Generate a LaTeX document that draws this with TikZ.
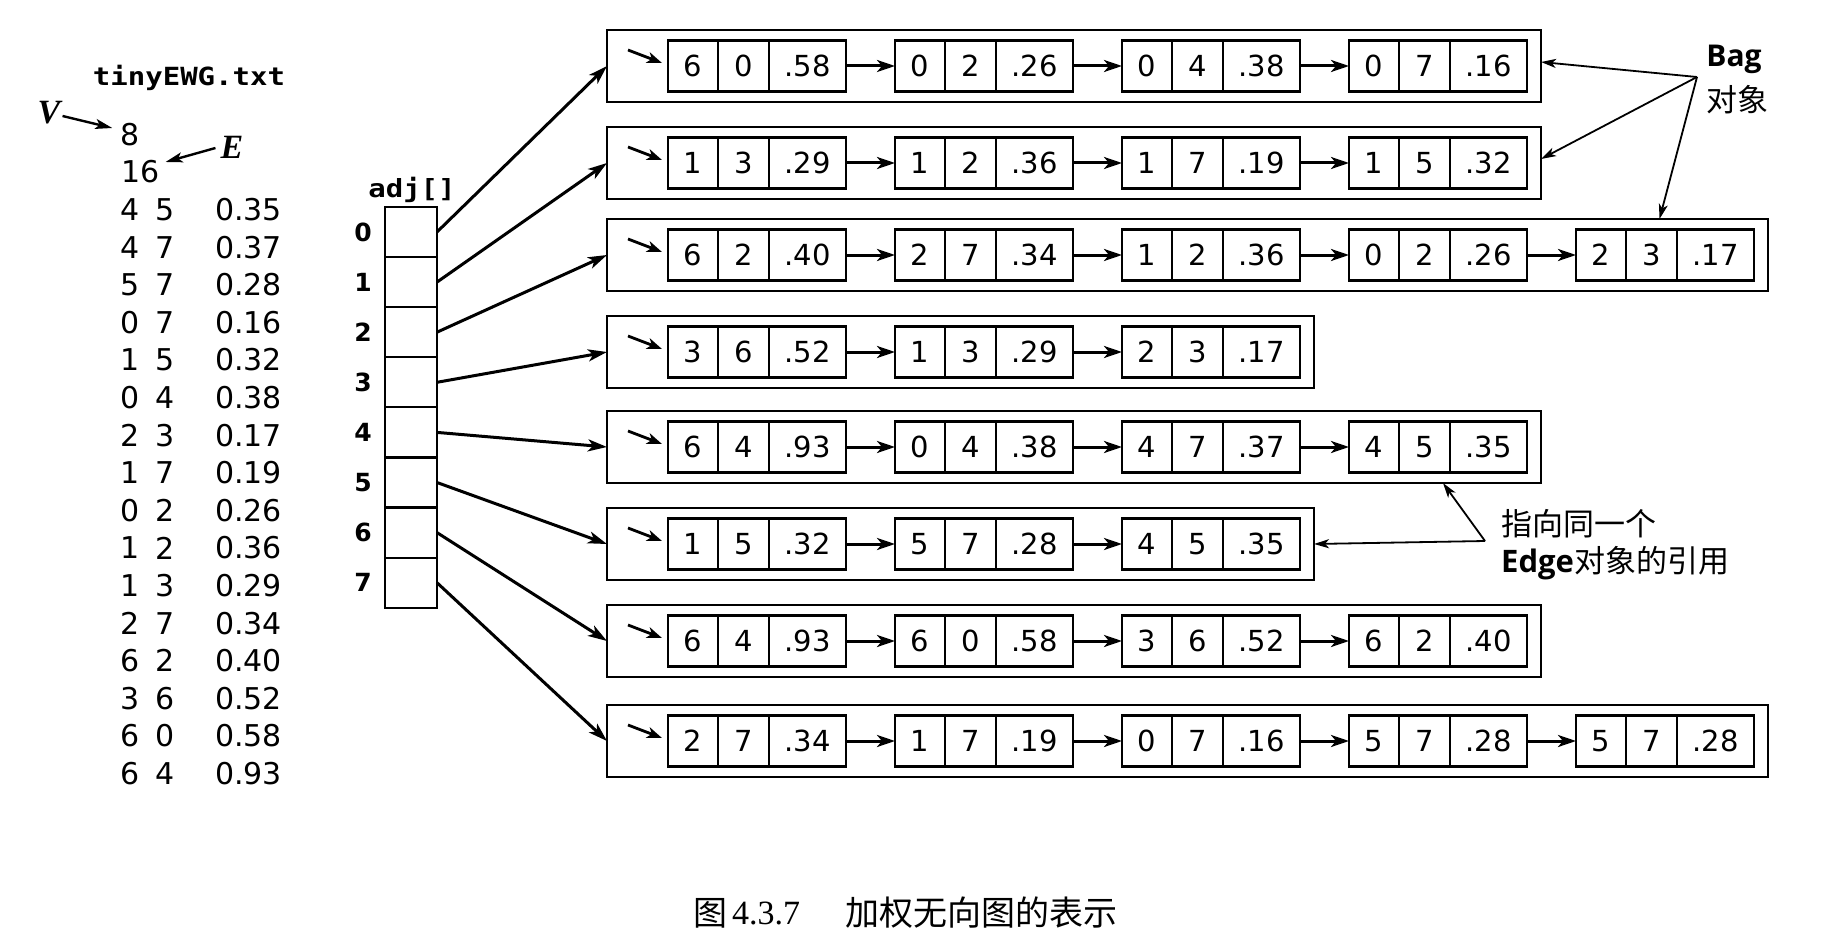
\documentclass[tikz,border=0pt]{standalone}
\usepackage{fontspec}
\setmainfont{DejaVu Sans}
\newfontfamily\cjk{Noto Sans CJK SC}
\newfontfamily\tmono[FakeStretch=1.16]{DejaVu Sans Mono}
\newfontfamily\tserif{Liberation Serif}
\newfontfamily\osans{Open Sans}
\usetikzlibrary{arrows.meta,calc}
\newcommand\enode[6]{%
  \node[ca] (#1a) at (#2+25,#3) {#4};
  \node[cb] (#1b) at (#2+75.5,#3) {#5};
  \node[cc] (#1c) at (#2+139.5,#3) {#6};}
\begin{document}
\begin{tikzpicture}[x=1pt,y=-1pt,
  box/.style={draw, line width=2.3pt, inner sep=0pt, outer sep=0pt, minimum height=51pt, font=\fontsize{29}{29}\selectfont},
  ca/.style={box, minimum width=50pt},
  cb/.style={box, minimum width=51pt},
  cc/.style={box, minimum width=77pt},
  bagbox/.style={draw, line width=2.3pt, inner sep=0pt, outer sep=0pt, minimum height=72pt, anchor=west},
  acell/.style={draw, line width=2.2pt, minimum width=52pt, minimum height=50.1pt, inner sep=0pt, outer sep=0pt},
  idx/.style={inner sep=0pt, font=\fontsize{25}{25}\selectfont\bfseries},
  el/.style={inner sep=0pt, font=\fontsize{30}{30}\selectfont},
  mono/.style={inner sep=0pt, font=\fontsize{25}{25}\selectfont\tmono\bfseries},
  vl/.style={inner sep=0pt, font=\fontsize{34}{34}\selectfont\tserif\bfseries\itshape},
  cjkl/.style={inner sep=0pt, font=\fontsize{31}{31}\selectfont\cjk},
  latl/.style={inner sep=0pt, font=\fontsize{30}{30}\selectfont\osans\bfseries},
  capt/.style={inner sep=0pt},
  ptr/.style={line width=3pt, -{Stealth[length=19pt,width=12pt,inset=5pt]}},
  nxt/.style={line width=3pt, -{Stealth[length=18pt,width=12pt,inset=5pt]}},
  entry/.style={line width=2.8pt, -{Stealth[length=15pt,width=11pt,inset=4pt]}},
  labarrow/.style={line width=2.4pt, -{Stealth[length=17pt,width=10pt,inset=4pt]}},
  thinarrow/.style={line width=1.8pt, -{Stealth[length=15pt,width=9pt,inset=4pt]}}
]
\useasboundingbox (0,0) rectangle (1847,944);
\fill[white] (0,0) rectangle (1847,944);

% ---------- edge list file ----------
\node[mono] (title) at (189,78) {tinyEWG.txt};
\node[el] (v8) at (130,135) {8};
\node[el, anchor=west] (e16) at (121,172) {16};
\foreach \a/\b/\w [count=\k] in {4/5/0.35,4/7/0.37,5/7/0.28,0/7/0.16,1/5/0.32,0/4/0.38,2/3/0.17,1/7/0.19,0/2/0.26,1/2/0.36,1/3/0.29,2/7/0.34,6/2/0.40,3/6/0.52,6/0/0.58,6/4/0.93}{
  \node[el] (ra\k) at (130,172+37.6*\k) {\a};
  \node[el] (rb\k) at (165,172+37.6*\k) {\b};
  \node[el, anchor=east] (rc\k) at (282,172+37.6*\k) {\w};
}
\node[vl] (V) at (49,113) {V};
\node[vl] (E) at (232,147) {E};
\draw[labarrow] ([shift={(2,3)}]V.east) -- ([shift={(-8,-7)}]v8.west);
\draw[labarrow] ([shift={(-5,1)}]E.west) -- ([shift={(6,-10)}]e16.east);

% ---------- adj array ----------
\node[mono] (adjl) at (412,190) {adj[]};
\foreach \i in {0,...,7}{
  \node[acell] (a\i) at (411,232+50.1*\i) {};
  \node[idx] (l\i) at (363,232+50.1*\i) {\i};
}

% ---------- bags ----------
\node[bagbox, minimum width=934pt] (b0) at (607,66) {};
\node[bagbox, minimum width=934pt] (b1) at (607,163) {};
\node[bagbox, minimum width=1161pt] (b2) at (607,255) {};
\node[bagbox, minimum width=707pt] (b3) at (607,352) {};
\node[bagbox, minimum width=934pt] (b4) at (607,447) {};
\node[bagbox, minimum width=707pt] (b5) at (607,544) {};
\node[bagbox, minimum width=934pt] (b6) at (607,641) {};
\node[bagbox, minimum width=1161pt] (b7) at (607,741) {};

% row 0
\enode{n00}{668}{66}{6}{0}{.58}
\enode{n01}{895}{66}{0}{2}{.26}
\enode{n02}{1122}{66}{0}{4}{.38}
\enode{n03}{1349}{66}{0}{7}{.16}
% row 1
\enode{n10}{668}{163}{1}{3}{.29}
\enode{n11}{895}{163}{1}{2}{.36}
\enode{n12}{1122}{163}{1}{7}{.19}
\enode{n13}{1349}{163}{1}{5}{.32}
% row 2
\enode{n20}{668}{255}{6}{2}{.40}
\enode{n21}{895}{255}{2}{7}{.34}
\enode{n22}{1122}{255}{1}{2}{.36}
\enode{n23}{1349}{255}{0}{2}{.26}
\enode{n24}{1576}{255}{2}{3}{.17}
% row 3
\enode{n30}{668}{352}{3}{6}{.52}
\enode{n31}{895}{352}{1}{3}{.29}
\enode{n32}{1122}{352}{2}{3}{.17}
% row 4
\enode{n40}{668}{447}{6}{4}{.93}
\enode{n41}{895}{447}{0}{4}{.38}
\enode{n42}{1122}{447}{4}{7}{.37}
\enode{n43}{1349}{447}{4}{5}{.35}
% row 5
\enode{n50}{668}{544}{1}{5}{.32}
\enode{n51}{895}{544}{5}{7}{.28}
\enode{n52}{1122}{544}{4}{5}{.35}
% row 6
\enode{n60}{668}{641}{6}{4}{.93}
\enode{n61}{895}{641}{6}{0}{.58}
\enode{n62}{1122}{641}{3}{6}{.52}
\enode{n63}{1349}{641}{6}{2}{.40}
% row 7
\enode{n70}{668}{741}{2}{7}{.34}
\enode{n71}{895}{741}{1}{7}{.19}
\enode{n72}{1122}{741}{0}{7}{.16}
\enode{n73}{1349}{741}{5}{7}{.28}
\enode{n74}{1576}{741}{5}{7}{.28}

% links between edge nodes
\foreach \r/\n in {0/3,1/3,2/4,3/2,4/3,5/2,6/3,7/4}{
  \foreach \j [evaluate=\j as \k using int(\j+1)] in {0,...,\n}{
    \ifnum\j<\n
      \draw[nxt] (n\r\j c) -- (n\r\k a);
    \fi
  }
  \draw[entry] ([shift={(21,-16)}]b\r.west) -- ([shift={(-6,-3)}]n\r0a.west);
}

% array pointers
\foreach \i in {0,...,7}{
  \draw[ptr] (a\i.east) -- (b\i.west);
}

% ---------- Bag label ----------
\node[latl] (bagl) at (1734,59) {Bag};
\node[cjkl] (bagc) at (1737,100) {对象};
\coordinate (bo) at (1697,77);
\draw[thinarrow] (bo) -- ([yshift=4pt]b0.east);
\draw[thinarrow] (bo) -- ([yshift=4pt]b1.east);
\draw[thinarrow] (bo) -- ($(n24b.north |- b2.north)+(8,0)$);

% ---------- Edge label ----------
\node[cjkl, anchor=west] (elab1) at (1501,524) {指向同一个};
\node[cjkl, anchor=west] (elab2) at (1501,563) {{\osans\bfseries Edge}对象的引用};
\coordinate (eo) at (1485,541);
\draw[thinarrow] (eo) -- ($(b4.south -| n43b.east)+(-7,0)$);
\draw[thinarrow] (eo) -- (b5.east);

% ---------- caption ----------
\node[capt, font=\fontsize{34}{34}\selectfont\cjk] (cap1) at (710,913) {图};
\node[capt, font=\fontsize{34}{34}\selectfont\tserif] (cap2) at (766,913) {4.3.7};
\node[capt, anchor=west, font=\fontsize{34}{34}\selectfont\cjk] (cap3) at (845,913) {加权无向图的表示};
\end{tikzpicture}
\end{document}
